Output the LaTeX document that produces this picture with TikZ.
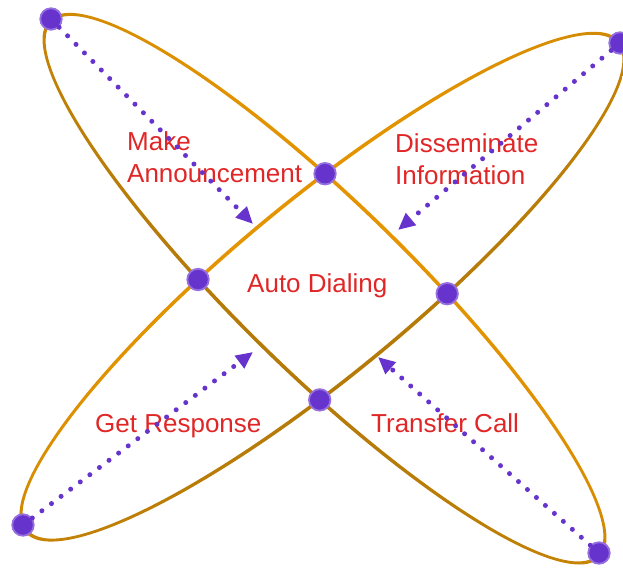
\documentclass[tikz,border=0pt]{standalone}
\usepackage{fontspec}
\setmainfont{Liberation Sans}
\usetikzlibrary{arrows.meta,intersections}

\definecolor{ringlight}{RGB}{228,148,0}
\definecolor{ringdark}{RGB}{180,122,8}
\definecolor{dotfill}{RGB}{102,51,204}
\definecolor{dotedge}{RGB}{150,112,222}
\definecolor{labelred}{RGB}{224,38,38}

\begin{document}
\begin{tikzpicture}[x=1pt, y=1pt, dot/.style={circle, fill=dotfill, draw=dotedge, line width=1.8pt, minimum size=21.5pt, inner sep=0pt}, flow/.style={-{Triangle[length=17pt,width=15pt]}, dotfill, line width=5pt, line cap=round, dash pattern=on 0pt off 12pt}, lbl/.style={text=labelred, font=\fontsize{26}{32}\selectfont, align=left, inner sep=0pt, anchor=base west}]
\useasboundingbox (0,0) rectangle (623,569);
% the two rings, shaded across their short axis
\begin{scope}[transform canvas={shift={(324.5,280.3)}, rotate=-44.3}]
\shade[even odd rule, top color=ringlight, bottom color=ringdark] (0,0) ellipse [x radius=384.8, y radius=86.3] (0,0) ellipse [x radius=381.2, y radius=82.7];
\end{scope}
\begin{scope}[transform canvas={shift={(322.5,282.3)}, rotate=39.5}]
\shade[even odd rule, top color=ringlight, bottom color=ringdark] (0,0) ellipse [x radius=385.8, y radius=89] (0,0) ellipse [x radius=382.2, y radius=85.4];
\end{scope}
\path[name path=ringA, shift={(324.5,280.3)}, rotate=-44.3] (0,0) ellipse [x radius=383, y radius=84.5];
\path[name path=ringB, shift={(322.5,282.3)}, rotate=39.5] (0,0) ellipse [x radius=384, y radius=87.2];
% labels
\node[lbl] (makeLbl) at (127,386) {Make\\Announcement};
\node[lbl] (dissLbl) at (395,384) {Disseminate\\Information};
\node[lbl] (autoLbl) at (247,276) {Auto Dialing};
\node[lbl] (respLbl) at (95,136) {Get Response};
\node[lbl] (transLbl) at (371,136) {Transfer Call};
% dots
\path[name intersections={of=ringA and ringB, name=X}];
\foreach \i in {1,...,4}
  \node[dot] (cross\i) at (X-\i) {};
\node[dot] (announce) at (51,550) {};
\node[dot] (dissem) at (620,526) {};
\node[dot] (response) at (23,44) {};
\node[dot] (transfer) at (599,16) {};
\coordinate (announceTip) at (253,345);
\coordinate (dissemTip) at (398,339);
\coordinate (responseTip) at (253,217);
\coordinate (transferTip) at (378,212);
% arrows
\draw[flow] (announce) -- (announceTip);
\draw[flow] (dissem) -- (dissemTip);
\draw[flow] (response) -- (responseTip);
\draw[flow] (transfer) -- (transferTip);
\end{tikzpicture}
\end{document}
